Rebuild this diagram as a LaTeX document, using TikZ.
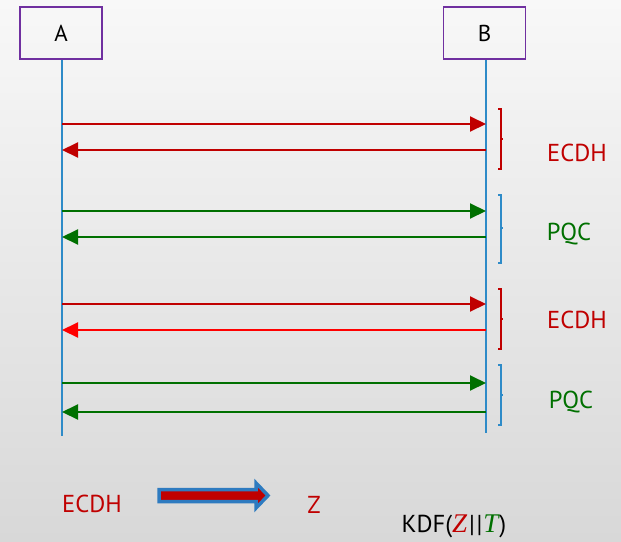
\documentclass[tikz,border=0pt]{standalone}
\usepackage{fontspec}
\setmainfont{PT Sans}
\newfontfamily\serifit{Liberation Serif}
\usetikzlibrary{arrows.meta}
\definecolor{boxpurple}{HTML}{7030A0}
\definecolor{lifeblue}{HTML}{2E8BC8}
\definecolor{dred}{HTML}{C00000}
\definecolor{bred}{HTML}{FF0000}
\definecolor{dgreen}{HTML}{007000}
\definecolor{brblue}{HTML}{2E7BC0}
\definecolor{bgtop}{HTML}{F8F8F8}
\definecolor{bgbot}{HTML}{D8D8D8}
\tikzset{
  party/.style={draw=boxpurple, line width=1.8pt, minimum width=82pt, minimum height=52pt, inner sep=0pt, font=\fontsize{23}{27}\selectfont},
  life/.style={draw=lifeblue, line width=1.8pt},
  msg/.style={line width=2pt, -{Triangle[length=16pt,width=15pt]}},
  brk/.style={line width=1.5pt},
  lbl/.style={font=\fontsize{24.5}{28}\selectfont, inner sep=0pt},
}
\begin{document}
\begin{tikzpicture}[x=1pt,y=-1pt]
\shade[top color=bgtop, bottom color=bgbot] (0,0) rectangle (621,541);
\useasboundingbox (0,0) rectangle (621,541);

% participants
\node[party] (A) at (61,33) {A};
\node[party] (B) at (484.5,33) {B};
\coordinate (Aend) at (62,436);
\coordinate (Bend) at (486,433);
\draw[life] (A.south -| Aend) -- (Aend);
\draw[life] (B.south -| Bend) -- (Bend);

% message end points
\foreach \i/\y in {1/124,2/150,3/211,4/237,5/304,6/330,7/383,8/412}{
  \coordinate (a\i) at (62,\y);
  \coordinate (b\i) at (486,\y);
}
\draw[msg, dred]   (a1) -- (b1);
\draw[msg, dred]   (b2) -- (a2);
\draw[msg, dgreen] (a3) -- (b3);
\draw[msg, dgreen] (b4) -- (a4);
\draw[msg, dred]   (a5) -- (b5);
\draw[msg, bred]   (b6) -- (a6);
\draw[msg, dgreen] (a7) -- (b7);
\draw[msg, dgreen] (b8) -- (a8);

% brackets
\draw[brk, dred]     (498,109) -- (501,109) -- (501,169) -- (498,169) (501,139) -- (503,139);
\draw[brk, lifeblue] (498,195) -- (501,195) -- (501,263) -- (498,263) (501,228) -- (503,228);
\draw[brk, dred]     (498,289) -- (501,289) -- (501,349) -- (498,349) (501,319) -- (503,319);
\draw[brk, lifeblue] (498,365) -- (501,365) -- (501,425) -- (498,425) (501,395) -- (503,395);

% labels
\node[lbl, text=dred]   (l1) at (577,153) {ECDH};
\node[lbl, text=dgreen] (l2) at (569,234) {PQC};
\node[lbl, text=dred]   (l3) at (577,320) {ECDH};
\node[lbl, text=dgreen] (l4) at (571,402) {PQC};

% bottom
\node[lbl, text=dred] (e) at (92,504) {ECDH};
\draw[line width=3.5pt, draw=brblue, fill=dred, line join=miter]
  (159,489.5) -- (256,489.5) -- (256,483) -- (268,495.5) -- (256,508) -- (256,501.5) -- (159,501.5) -- cycle;
\node[lbl, text=dred] (z) at (314,505) {Z};
\node[lbl, text=black] (kdf) at (454,526) {KDF(\textcolor{dred}{\serifit\itshape\fontsize{27}{30}\selectfont Z}\kern2pt|\kern1.5pt|\kern1pt\textcolor{dgreen}{\serifit\itshape\fontsize{27}{30}\selectfont T}\kern1pt)};
\end{tikzpicture}
\end{document}
